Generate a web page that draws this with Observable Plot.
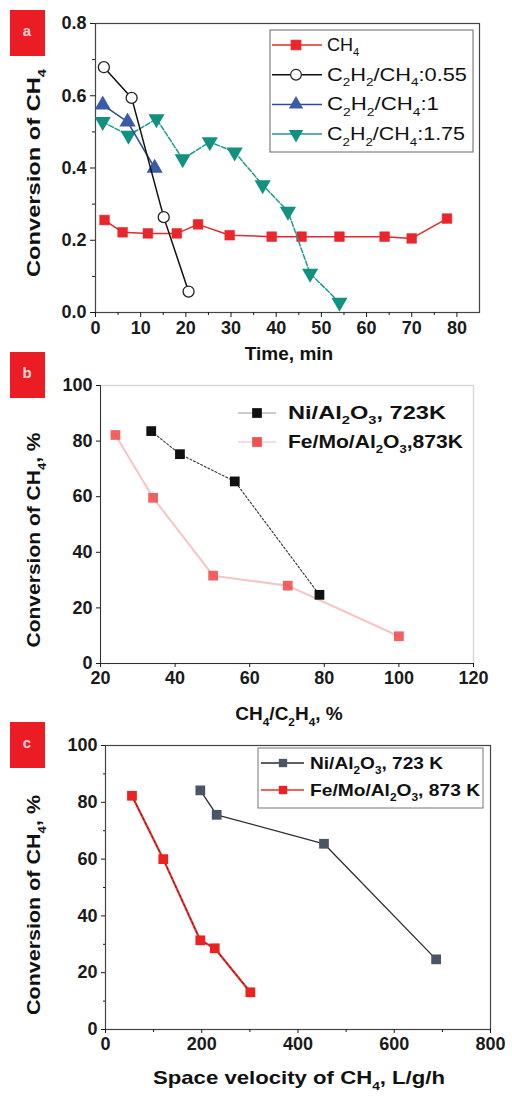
<!DOCTYPE html>
<html>
<head>
<meta charset="utf-8">
<script src="https://cdn.jsdelivr.net/npm/d3@7"></script>
<script src="https://cdn.jsdelivr.net/npm/@observablehq/plot@0.6"></script>
<style>
  html, body { margin: 0; padding: 0; background: #fff; }
  #wrap { position: relative; width: 512px; height: 1099px; overflow: hidden; font-family: "Liberation Sans", Arial, sans-serif; }
  .panel { position: absolute; left: 0; }
  #overlay { position: absolute; left: 0; top: 0; pointer-events: none; }
</style>
</head>
<body>
<div id="wrap">
  <div class="panel" id="pa" style="top:0px"></div>
  <div class="panel" id="pb" style="top:370px"></div>
  <div class="panel" id="pc" style="top:730px"></div>
</div>
<script>
// ---------- Panel a data: conversion vs time ----------
const aTicksX = [0, 10, 20, 30, 40, 50, 60, 70, 80];
const aTicksY = [0.0, 0.2, 0.4, 0.6, 0.8];
const ch4Time = [2, 6, 11.6, 18, 22.7, 29.7, 39, 45.6, 54, 64, 70, 77.8];
const ch4Conv = [0.256, 0.222, 0.219, 0.219, 0.244, 0.214, 0.21, 0.21, 0.21, 0.21, 0.205, 0.26];
const r055Time = [1.85, 8, 15.1, 20.6];
const r055Conv = [0.679, 0.594, 0.264, 0.058];
const r1Time = [1.6, 7.1, 13.1];
const r1Conv = [0.575, 0.528, 0.40];
const r175Time = [1.6, 7.3, 13.5, 19.3, 25.3, 30.8, 37, 42.6, 47.5, 54];
const r175Conv = [0.528, 0.49, 0.536, 0.425, 0.472, 0.444, 0.353, 0.28, 0.108, 0.028];

// ---------- Panel b data: conversion vs CH4/C2H4 ----------
const bTicksX = [20, 40, 60, 80, 100, 120];
const bTicksY = [0, 20, 40, 60, 80, 100];
const bNiX = [33.6, 41.3, 56, 78.7];
const bNiY = [83.6, 75.3, 65.5, 24.7];
const bFeX = [24, 34.1, 50.2, 70.2, 100];
const bFeY = [82.2, 59.6, 31.6, 28, 9.8];

// ---------- Panel c data: conversion vs space velocity ----------
const cTicksX = [0, 200, 400, 600, 800];
const cTicksY = [0, 20, 40, 60, 80, 100];
const cNiX = [197, 231, 454, 687];
const cNiY = [84.2, 75.6, 65.4, 24.7];
const cFeX = [55, 120, 197, 227, 301];
const cFeY = [82.3, 60, 31.4, 28.6, 13.1];

const zip = (xs, ys) => xs.map((x, i) => ({x, y: ys[i]}));

const triDown = {
  draw(context, size) {
    const y = -Math.sqrt(size / (Math.sqrt(3) * 3));
    context.moveTo(0, -y * 2);
    context.lineTo(-Math.sqrt(3) * y, y);
    context.lineTo(Math.sqrt(3) * y, y);
    context.closePath();
  }
};

const baseStyle = {fontFamily: "'Liberation Sans', Arial, sans-serif", fontSize: "18px", fontWeight: "bold", color: "#1a1a1a", background: "transparent", overflow: "visible"};

const RED = "#e8262b";

// Panel a
const plotA = Plot.plot({
  width: 512, height: 370,
  marginTop: 23, marginBottom: 58, marginLeft: 95, marginRight: 33,
  style: baseStyle,
  x: {domain: [0, 85]},
  y: {domain: [0, 0.8]},
  marks: [
    Plot.frame({stroke: "#444", strokeWidth: 1.2}),
    Plot.axisX({ticks: aTicksX, tickSize: 5, tickPadding: 4, label: null, tickFormat: d => d3.format("d")(d)}),
    Plot.axisX({ticks: aTicksX.map(d => d + 5).filter(d => d < 85), tickSize: 3, tickFormat: () => "", label: null}),
    Plot.axisY({ticks: aTicksY, tickSize: 5, tickPadding: 4, label: null, tickFormat: d3.format(".1f")}),
    Plot.axisY({ticks: [0.1, 0.3, 0.5, 0.7], tickSize: 3, tickFormat: () => "", label: null}),
    Plot.line(zip(ch4Time, ch4Conv), {x: "x", y: "y", stroke: RED, strokeWidth: 1.5}),
    Plot.dot(zip(ch4Time, ch4Conv), {x: "x", y: "y", symbol: "square", r: 5.5, fill: RED, stroke: RED, strokeWidth: 0.5}),
    Plot.line(zip(r175Time, r175Conv), {x: "x", y: "y", stroke: "#1c9a8c", strokeWidth: 1.5, strokeDasharray: "5,2"}),
    Plot.dot(zip(r175Time, r175Conv), {x: "x", y: "y", symbol: triDown, r: 6, fill: "#13917f"}),
    Plot.line(zip(r1Time, r1Conv), {x: "x", y: "y", stroke: "#2f4d93", strokeWidth: 1.5}),
    Plot.dot(zip(r1Time, r1Conv), {x: "x", y: "y", symbol: "triangle", r: 6, fill: "#3b5ba8"}),
    Plot.line(zip(r055Time, r055Conv), {x: "x", y: "y", stroke: "#111", strokeWidth: 1.5}),
    Plot.dot(zip(r055Time, r055Conv), {x: "x", y: "y", symbol: "circle", r: 5.5, fill: "white", stroke: "#222", strokeWidth: 1.3})
  ]
});
document.getElementById("pa").appendChild(plotA);

// Panel b
const plotB = Plot.plot({
  width: 512, height: 360,
  marginTop: 15, marginBottom: 67, marginLeft: 100, marginRight: 39,
  style: baseStyle,
  x: {domain: [20, 120]},
  y: {domain: [0, 100]},
  marks: [
    Plot.frame({stroke: "#d8d8d8", strokeWidth: 1.5}),
    Plot.ruleY([0], {stroke: "#333", strokeWidth: 1}),
    Plot.ruleX([20], {stroke: "#333", strokeWidth: 1}),
    Plot.axisX({ticks: bTicksX, tickSize: 4, tickPadding: 4, label: null}),
    Plot.axisY({ticks: bTicksY, tickSize: 4, tickPadding: 4, label: null}),
    Plot.line(zip(bFeX, bFeY), {x: "x", y: "y", stroke: "#f6c4c4", strokeWidth: 2}),
    Plot.dot(zip(bFeX, bFeY), {x: "x", y: "y", symbol: "square", r: 5.5, fill: "#ef4848", fillOpacity: 0.85}),
    Plot.line(zip(bNiX, bNiY), {x: "x", y: "y", stroke: "#333", strokeWidth: 1.1, strokeDasharray: "2,2"}),
    Plot.dot(zip(bNiX, bNiY), {x: "x", y: "y", symbol: "square", r: 5.5, fill: "#111"})
  ]
});
document.getElementById("pb").appendChild(plotB);

// Panel c
const plotC = Plot.plot({
  width: 512, height: 369,
  marginTop: 15, marginBottom: 70, marginLeft: 105, marginRight: 22,
  style: baseStyle,
  x: {domain: [0, 800]},
  y: {domain: [0, 100]},
  marks: [
    Plot.frame({stroke: "#444", strokeWidth: 1.2}),
    Plot.axisX({ticks: cTicksX, tickSize: 4, tickPadding: 4, label: null}),
    Plot.axisX({ticks: [100, 300, 500, 700], tickSize: 3, tickFormat: () => "", label: null}),
    Plot.axisY({ticks: cTicksY, tickSize: 4, tickPadding: 4, label: null}),
    Plot.axisY({ticks: [10, 30, 50, 70, 90], tickSize: 2, tickFormat: () => "", label: null}),
    Plot.line(zip(cFeX, cFeY), {x: "x", y: "y", stroke: "#e83030", strokeWidth: 2.2}),
    Plot.line(zip(cFeX, cFeY), {x: "x", y: "y", stroke: "#7a1a1a", strokeWidth: 1, strokeDasharray: "2,3"}),
    Plot.dot(zip(cFeX, cFeY), {x: "x", y: "y", symbol: "square", r: 5.5, fill: "#ec2222"}),
    Plot.line(zip(cNiX, cNiY), {x: "x", y: "y", stroke: "#2a2a3a", strokeWidth: 1.3}),
    Plot.dot(zip(cNiX, cNiY), {x: "x", y: "y", symbol: "square", r: 5.5, fill: "#4a5566"})
  ]
});
document.getElementById("pc").appendChild(plotC);

// ---------- Overlay: panel labels, axis titles, legends ----------
const ov = d3.select("#wrap").append("svg").attr("id", "overlay")
  .attr("width", 512).attr("height", 1099)
  .style("font-family", "'Liberation Sans', Arial, sans-serif");

function rich(x, y, parts, {size = 18, weight = "bold", anchor = "start", len = null, rotate = false, fill = "#111"} = {}) {
  const t = ov.append("text").attr("x", x).attr("y", y)
    .attr("font-size", size).attr("font-weight", weight)
    .attr("text-anchor", anchor).attr("fill", fill);
  if (rotate) t.attr("transform", `rotate(-90 ${x} ${y})`);
  if (len) t.attr("textLength", len).attr("lengthAdjust", "spacingAndGlyphs");
  let shifted = false;
  for (const p of parts) {
    const isSub = typeof p !== "string";
    const s = t.append("tspan").text(isSub ? p.sub : p);
    if (isSub) {
      s.attr("font-size", size * 0.62);
      if (!shifted) { s.attr("dy", size * 0.3); shifted = true; }
    } else if (shifted) {
      s.attr("dy", -size * 0.3); shifted = false;
    }
  }
  return t;
}
const S = v => ({sub: v});

// panel tags
const tags = [["a", 10], ["b", 352], ["c", 722]];
for (const [ch, top] of tags) {
  ov.append("rect").attr("x", 10).attr("y", top).attr("width", 35).attr("height", 46).attr("fill", "#ec1c24");
  ov.append("text").attr("x", 27).attr("y", top + 26).attr("text-anchor", "middle")
    .attr("font-size", 15).attr("font-weight", "bold").attr("fill", "#ffd6d6").text(ch);
}

// axis titles
rich(289, 360, ["Time, min"], {size: 19, anchor: "middle"});
rich(40, 173, ["Conversion of CH", S("4")], {size: 19, anchor: "middle", rotate: true, len: 208});
rich(289, 720, ["CH", S("4"), "/C", S("2"), "H", S("4"), ", %"], {size: 19, anchor: "middle"});
rich(40, 540, ["Conversion of CH", S("4"), ", %"], {size: 19, anchor: "middle", rotate: true, len: 215});
rich(299, 1084, ["Space velocity of CH", S("4"), ", L/g/h"], {size: 19, anchor: "middle", len: 292});
rich(40, 905, ["Conversion of CH", S("4"), ", %"], {size: 19, anchor: "middle", rotate: true, len: 220});

// legend a
ov.append("rect").attr("x", 270).attr("y", 30).attr("width", 203).attr("height", 122)
  .attr("fill", "white").attr("stroke", "#666").attr("stroke-width", 1);
const legA = [
  {parts: ["CH", S("4")], color: RED, sym: d3.symbolSquare, fill: RED, stroke: RED},
  {parts: ["C", S("2"), "H", S("2"), "/CH", S("4"), ":0.55"], color: "#111", sym: d3.symbolCircle, fill: "white", stroke: "#222"},
  {parts: ["C", S("2"), "H", S("2"), "/CH", S("4"), ":1"], color: "#2f4d93", sym: d3.symbolTriangle, fill: "#3b5ba8", stroke: "none"},
  {parts: ["C", S("2"), "H", S("2"), "/CH", S("4"), ":1.75"], color: "#1c9a8c", sym: triDown, fill: "#13917f", stroke: "none"}
];
legA.forEach((d, i) => {
  const y = 45 + i * 29.7;
  ov.append("line").attr("x1", 272).attr("x2", 322).attr("y1", y).attr("y2", y).attr("stroke", d.color).attr("stroke-width", 1.5);
  ov.append("path").attr("d", d3.symbol(d.sym, 90)()).attr("transform", `translate(296,${y})`)
    .attr("fill", d.fill).attr("stroke", d.stroke).attr("stroke-width", 1.2);
  rich(327, y + 6, d.parts, {size: 18, weight: "normal", len: i === 0 ? null : [0, 140, 112, 138][i]});
});

// legend b
const legB = [
  {parts: ["Ni/Al", S("2"), "O", S("3"), ", 723K"], fill: "#111", line: "#bbb", len: 158},
  {parts: ["Fe/Mo/Al", S("2"), "O", S("3"), ",873K"], fill: "#ef5050", line: "#f6d0d0", len: 175}
];
legB.forEach((d, i) => {
  const y = 413 + i * 29;
  ov.append("line").attr("x1", 238).attr("x2", 276).attr("y1", y).attr("y2", y).attr("stroke", d.line).attr("stroke-width", 1.5);
  ov.append("path").attr("d", d3.symbol(d3.symbolSquare, 95)()).attr("transform", `translate(257,${y})`).attr("fill", d.fill);
  rich(288, y + 6, d.parts, {size: 18, len: d.len});
});

// legend c
ov.append("rect").attr("x", 258).attr("y", 748).attr("width", 225).attr("height", 60)
  .attr("fill", "white").attr("stroke", "#777").attr("stroke-width", 1);
const legC = [
  {parts: ["Ni/Al", S("2"), "O", S("3"), ", 723 K"], fill: "#4a5566", line: "#2a2a3a", len: 133},
  {parts: ["Fe/Mo/Al", S("2"), "O", S("3"), ", 873 K"], fill: "#ec2222", line: "#e83030", len: 170}
];
legC.forEach((d, i) => {
  const y = 763 + i * 27;
  ov.append("line").attr("x1", 261).attr("x2", 304).attr("y1", y).attr("y2", y).attr("stroke", d.line).attr("stroke-width", 1.5);
  ov.append("path").attr("d", d3.symbol(d3.symbolSquare, 70)()).attr("transform", `translate(283,${y})`).attr("fill", d.fill);
  rich(310, y + 6, d.parts, {size: 17, len: d.len});
});
</script>
</body>
</html>
